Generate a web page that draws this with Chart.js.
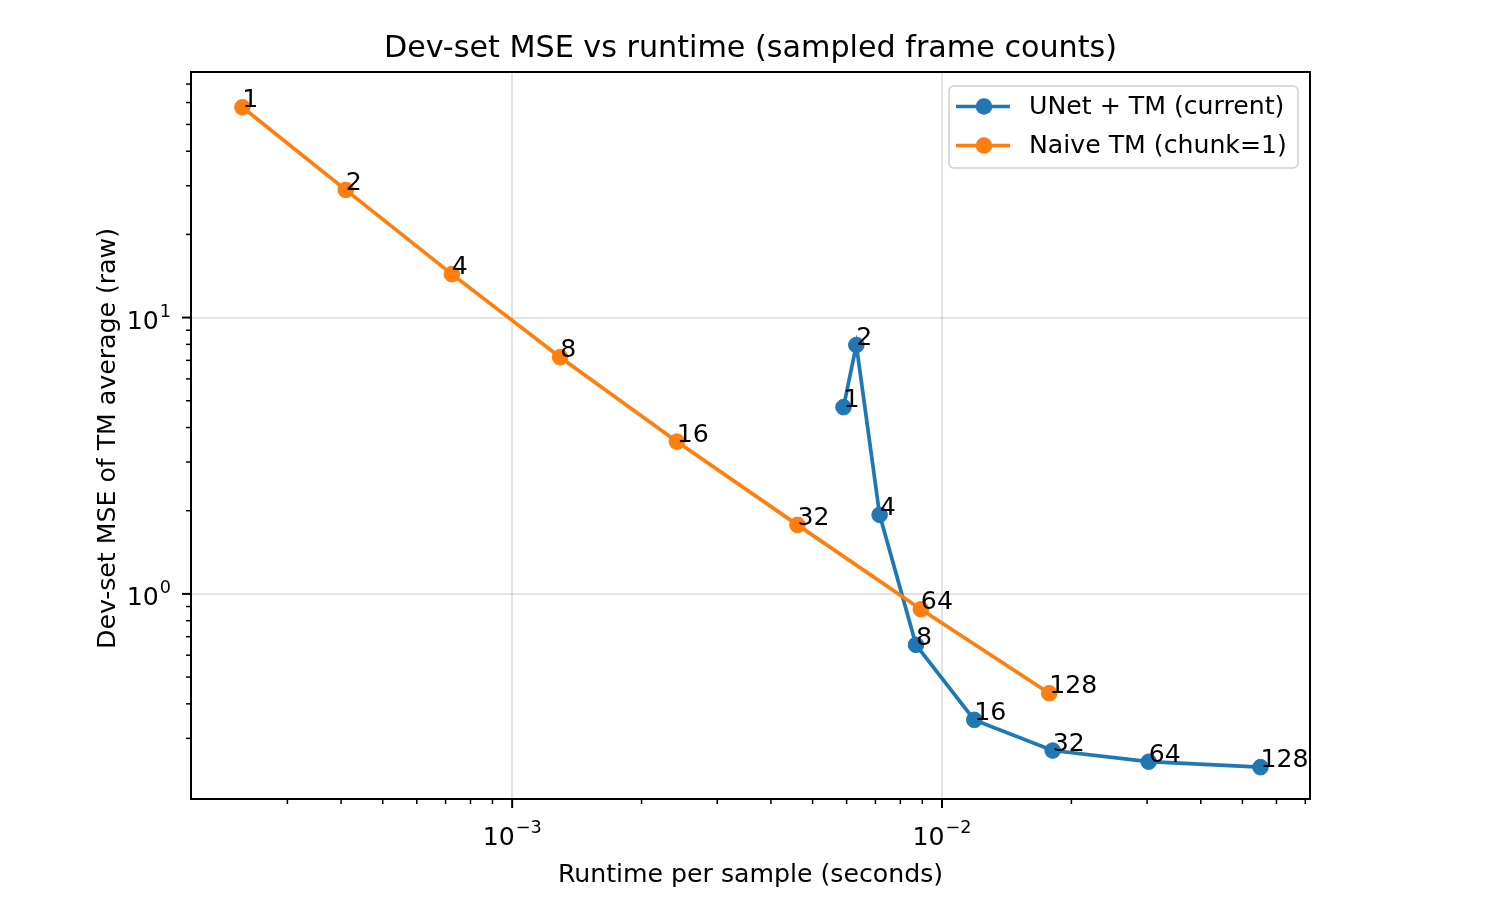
<!DOCTYPE html>
<html>
<head>
<meta charset="utf-8">
<title>Dev-set MSE vs runtime</title>
<script src="https://cdn.jsdelivr.net/npm/chart.js@4.4.1/dist/chart.umd.min.js"></script>
<style>
  html, body { margin: 0; padding: 0; background: #fff; }
  #chart { display: block; }
</style>
</head>
<body>
<canvas id="chart" width="1489" height="907"></canvas>
<script>
// data (log-log)
const frameCounts = [1, 2, 4, 8, 16, 32, 64, 128];

const unetRuntime = [5.90e-3, 6.32e-3, 7.16e-3, 8.70e-3, 0.01189, 0.01809, 0.03026, 0.05506];
const unetMse = [4.74, 7.96, 1.932, 0.654, 0.350, 0.271, 0.247, 0.236];

const naiveRuntime = [2.357e-4, 4.10e-4, 7.24e-4, 1.293e-3, 2.416e-3, 4.61e-3, 8.93e-3, 0.01776];
const naiveMse = [57.7, 28.98, 14.36, 7.19, 3.557, 1.777, 0.880, 0.437];

const xRange = [1.79e-4, 0.0718];
const yRange = [0.181, 77.4];
const xMajorTicks = [1e-3, 1e-2];
const yMajorTicks = [1, 10];

const seriesNames = ['UNet + TM (current)', 'Naive TM (chunk=1)'];

const FONT = '"DejaVu Sans", sans-serif';
const BASE = 25.2;       // 10pt text
const TITLE = 30.2;      // 12pt title
const BLUE = '#1f77b4';
const ORANGE = '#ff7f0e';
const GRID = 'rgba(176, 176, 176, 0.35)';

// 1..9 x 10^n only, drop the min/max ticks chart.js adds
function isNice(v) {
    const e = Math.floor(Math.log10(v) + 1e-9);
    const m = v / Math.pow(10, e);
    return Math.abs(m - Math.round(m)) < 1e-6;
}

function isMajor(v, list) {
    return list.some(t => Math.abs(v / t - 1) < 1e-6);
}

function expText(v) {
    return String(Math.round(Math.log10(v))).replace('-', '\u2212');
}

// draw "10^n" like mathtext; align = 'center' or 'right'
function drawPow(ctx, v, x, baseline, align) {
    const exp = expText(v);
    ctx.font = BASE + 'px ' + FONT;
    const w1 = ctx.measureText('10').width;
    ctx.font = (BASE * 0.7) + 'px ' + FONT;
    const w2 = ctx.measureText(exp).width;
    const w = w1 + w2 + 1;
    const x0 = align === 'center' ? x - w / 2 : x - w;
    ctx.textAlign = 'left';
    ctx.textBaseline = 'alphabetic';
    ctx.font = BASE + 'px ' + FONT;
    ctx.fillText('10', x0, baseline);
    ctx.font = (BASE * 0.7) + 'px ' + FONT;
    ctx.fillText(exp, x0 + w1 + 1, baseline - 12);
}

const toPoints = (xs, ys) => xs.map((x, i) => ({ x: x, y: ys[i] }));

// titles, spines, tick marks, point labels, legend
const decorPlugin = {
    id: 'decor',
    afterDatasetsDraw(chart) {
        const ctx = chart.ctx;
        ctx.save();
        ctx.fillStyle = '#000';
        ctx.font = BASE + 'px ' + FONT;
        ctx.textAlign = 'left';
        ctx.textBaseline = 'alphabetic';
        chart.data.datasets.forEach((ds, i) => {
            const meta = chart.getDatasetMeta(i);
            meta.data.forEach((pt, j) => {
                ctx.fillText(String(frameCounts[j]), pt.x, pt.y);
            });
        });
        ctx.restore();
    },
    afterDraw(chart) {
        const ctx = chart.ctx;
        const area = chart.chartArea;
        const xs = chart.scales.x;
        const ys = chart.scales.y;
        ctx.save();

        // spines
        ctx.strokeStyle = '#000';
        ctx.lineWidth = 2;
        ctx.strokeRect(area.left, area.top, area.right - area.left, area.bottom - area.top);

        // tick marks + labels
        xs.ticks.forEach(t => {
            const px = xs.getPixelForValue(t.value);
            const major = isMajor(t.value, xMajorTicks);
            ctx.strokeStyle = '#000';
            ctx.lineWidth = major ? 2 : 1.5;
            ctx.beginPath();
            ctx.moveTo(px, area.bottom);
            ctx.lineTo(px, area.bottom + (major ? 9 : 5));
            ctx.stroke();
            if (major) {
                ctx.fillStyle = '#000';
                drawPow(ctx, t.value, px, area.bottom + 45.5, 'center');
            }
        });
        ys.ticks.forEach(t => {
            const py = ys.getPixelForValue(t.value);
            const major = isMajor(t.value, yMajorTicks);
            ctx.strokeStyle = '#000';
            ctx.lineWidth = major ? 2 : 1.5;
            ctx.beginPath();
            ctx.moveTo(area.left, py);
            ctx.lineTo(area.left - (major ? 9 : 5), py);
            ctx.stroke();
            if (major) {
                ctx.fillStyle = '#000';
                drawPow(ctx, t.value, area.left - 20, py + 11, 'right');
            }
        });

        // titles
        const cx = (area.left + area.right) / 2;
        const cy = (area.top + area.bottom) / 2;
        ctx.fillStyle = '#000';
        ctx.textAlign = 'center';
        ctx.textBaseline = 'alphabetic';
        ctx.font = TITLE + 'px ' + FONT;
        ctx.fillText('Dev-set MSE vs runtime (sampled frame counts)', cx, 57);
        ctx.font = BASE + 'px ' + FONT;
        ctx.fillText('Runtime per sample (seconds)', cx, 882);
        ctx.save();
        ctx.translate(115, cy + 3);
        ctx.rotate(-Math.PI / 2);
        ctx.fillText('Dev-set MSE of TM average (raw)', 0, 0);
        ctx.restore();

        // legend
        const lx = 949, ly = 86, lw = 349, lh = 82;
        ctx.beginPath();
        ctx.roundRect(lx, ly, lw, lh, 5);
        ctx.fillStyle = 'rgba(255, 255, 255, 0.8)';
        ctx.fill();
        ctx.strokeStyle = '#d0d0d0';
        ctx.lineWidth = 1.5;
        ctx.stroke();
        const colors = [BLUE, ORANGE];
        const rows = [106.5, 145.5];
        seriesNames.forEach((name, i) => {
            const ry = rows[i];
            ctx.strokeStyle = colors[i];
            ctx.lineWidth = 3.7;
            ctx.beginPath();
            ctx.moveTo(956, ry);
            ctx.lineTo(1010, ry);
            ctx.stroke();
            ctx.fillStyle = colors[i];
            ctx.beginPath();
            ctx.arc(984, ry, 8.3, 0, Math.PI * 2);
            ctx.fill();
            ctx.fillStyle = '#000';
            ctx.textAlign = 'left';
            ctx.textBaseline = 'middle';
            ctx.font = BASE + 'px ' + FONT;
            ctx.fillText(name, 1029, ry + 1);
        });

        ctx.restore();
    }
};

const ctx = document.getElementById('chart').getContext('2d');
new Chart(ctx, {
    type: 'line',
    data: {
        datasets: [
            {
                label: seriesNames[0],
                data: toPoints(unetRuntime, unetMse),
                borderColor: BLUE,
                backgroundColor: BLUE,
                pointBackgroundColor: BLUE,
                pointBorderColor: BLUE,
                borderWidth: 3.7,
                pointRadius: 7.8,
                pointBorderWidth: 1,
                tension: 0,
                order: 1
            },
            {
                label: seriesNames[1],
                data: toPoints(naiveRuntime, naiveMse),
                borderColor: ORANGE,
                backgroundColor: ORANGE,
                pointBackgroundColor: ORANGE,
                pointBorderColor: ORANGE,
                borderWidth: 3.7,
                pointRadius: 7.8,
                pointBorderWidth: 1,
                tension: 0,
                order: 0
            }
        ]
    },
    options: {
        responsive: false,
        devicePixelRatio: 1,
        animation: false,
        layout: { padding: { top: 72, right: 179, bottom: 0, left: 0 } },
        plugins: {
            legend: { display: false },
            tooltip: { enabled: false },
            title: { display: false }
        },
        scales: {
            x: {
                type: 'logarithmic',
                position: 'bottom',
                min: xRange[0],
                max: xRange[1],
                afterBuildTicks: s => { s.ticks = s.ticks.filter(t => isNice(t.value)); },
                afterFit: s => { s.height = 108; },
                border: { display: false },
                grid: {
                    color: c => (c.tick && isMajor(c.tick.value, xMajorTicks)) ? GRID : 'rgba(0,0,0,0)',
                    lineWidth: 2,
                    drawTicks: false
                },
                ticks: { display: false, autoSkip: false, maxRotation: 0 }
            },
            y: {
                type: 'logarithmic',
                position: 'left',
                min: yRange[0],
                max: yRange[1],
                afterBuildTicks: s => { s.ticks = s.ticks.filter(t => isNice(t.value)); },
                afterFit: s => { s.width = 191; },
                border: { display: false },
                grid: {
                    color: c => (c.tick && isMajor(c.tick.value, yMajorTicks)) ? GRID : 'rgba(0,0,0,0)',
                    lineWidth: 2,
                    drawTicks: false
                },
                ticks: { display: false, autoSkip: false }
            }
        }
    },
    plugins: [decorPlugin]
});
</script>
</body>
</html>
